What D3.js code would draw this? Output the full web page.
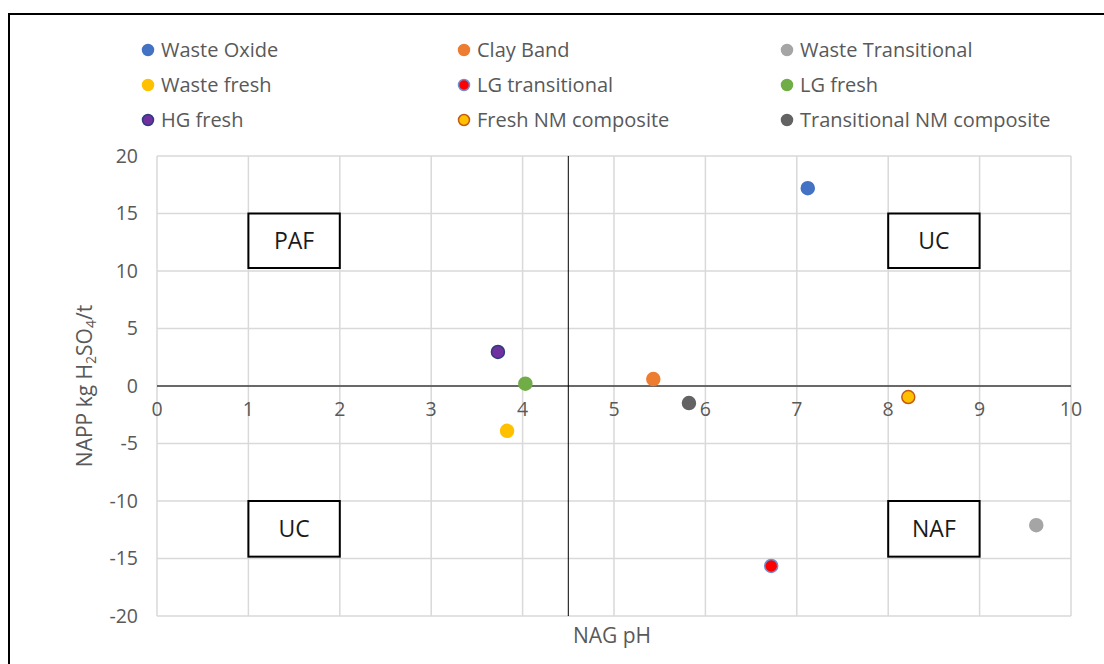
<!DOCTYPE html>
<html>
<head>
<meta charset="utf-8">
<script src="https://cdn.jsdelivr.net/npm/d3@7"></script>
<style>
  html, body { margin: 0; padding: 0; background: #fff; }
  svg text { font-family: "Open Sans", "Noto Sans", sans-serif; }
</style>
</head>
<body>
<svg id="chart" width="1104" height="664"></svg>
<script>
// ---- data ----
const seriesNames = ["Waste Oxide", "Clay Band", "Waste Transitional", "Waste fresh", "LG transitional", "LG fresh", "HG fresh", "Fresh NM composite", "Transitional NM composite"];
const nagPH = [7.12, 5.43, 9.62, 3.83, 6.72, 4.03, 3.73, 8.22, 5.82];
const napp = [17.2, 0.6, -12.1, -3.9, -15.65, 0.2, 2.96, -0.96, -1.48];
const fillColors = ["#4472c4", "#ed7d31", "#a5a5a5", "#ffc000", "#ff0000", "#70ad47", "#7030a0", "#ffc000", "#636363"];
const strokeColors = ["#4472c4", "#ed7d31", "#a5a5a5", "#ffc000", "#6f8fd0", "#70ad47", "#2f3a80", "#c55a11", "#636363"];
const xTicks = [0, 1, 2, 3, 4, 5, 6, 7, 8, 9, 10];
const yTicks = [20, 15, 10, 5, 0, -5, -10, -15, -20];
const zoneLabels = ["PAF", "UC", "UC", "NAF"];
const zoneX0 = [1, 8, 1, 8];
const zoneX1 = [2, 9, 2, 9];
const zoneY0 = [15, 15, -10, -10];
const zoneY1 = [10.26, 10.26, -14.84, -14.84];
const dividerX = 4.5;

// ---- layout ----
const svg = d3.select("#chart");
const W = 1104, H = 664;
const plot = { left: 157, right: 1071, top: 156, bottom: 616 };
const x = d3.scaleLinear().domain([0, 10]).range([plot.left, plot.right]);
const y = d3.scaleLinear().domain([-20, 20]).range([plot.bottom, plot.top]);

svg.append("rect").attr("width", W).attr("height", H).attr("fill", "#fff");
// outer frame
svg.append("rect").attr("x", 9).attr("y", 14).attr("width", W + 20).attr("height", H + 20)
  .attr("fill", "none").attr("stroke", "#000").attr("stroke-width", 2);

// gridlines
const grid = svg.append("g");
grid.selectAll("line.v").data(xTicks).join("line")
  .attr("x1", d => x(d)).attr("x2", d => x(d))
  .attr("y1", plot.top).attr("y2", plot.bottom)
  .attr("stroke", "#d9d9d9").attr("stroke-width", 1.5);
grid.selectAll("line.h").data(yTicks).join("line")
  .attr("x1", plot.left).attr("x2", plot.right)
  .attr("y1", d => y(d)).attr("y2", d => y(d))
  .attr("stroke", "#d9d9d9").attr("stroke-width", 1.5);

// zero line (x-axis)
svg.append("line").attr("x1", plot.left).attr("x2", plot.right)
  .attr("y1", y(0)).attr("y2", y(0)).attr("stroke", "#404040").attr("stroke-width", 1.5);
// divider line
svg.append("line").attr("x1", x(dividerX)).attr("x2", x(dividerX))
  .attr("y1", plot.top).attr("y2", plot.bottom).attr("stroke", "#000").attr("stroke-width", 1);

// y axis tick labels
svg.selectAll("text.yt").data(yTicks).join("text")
  .attr("x", plot.left - 19).attr("y", d => y(d)).attr("dy", "0.35em")
  .attr("text-anchor", "end").attr("font-size", 19.5).attr("fill", "#595959")
  .text(d => d);
// x axis tick labels (just below the zero line)
svg.selectAll("text.xt").data(xTicks).join("text")
  .attr("x", d => x(d)).attr("y", y(0) + 30)
  .attr("text-anchor", "middle").attr("font-size", 19.5).attr("fill", "#595959")
  .text(d => d);

// zone boxes
const zones = zoneLabels.map((l, i) => ({ l, x0: zoneX0[i], x1: zoneX1[i], y0: zoneY0[i], y1: zoneY1[i] }));
const zg = svg.append("g");
zg.selectAll("rect").data(zones).join("rect")
  .attr("x", d => x(d.x0)).attr("y", d => y(d.y0))
  .attr("width", d => x(d.x1) - x(d.x0)).attr("height", d => y(d.y1) - y(d.y0))
  .attr("fill", "#fff").attr("stroke", "#000").attr("stroke-width", 2);
zg.selectAll("text").data(zones).join("text")
  .attr("x", d => (x(d.x0) + x(d.x1)) / 2).attr("y", d => (y(d.y0) + y(d.y1)) / 2)
  .attr("dy", "0.36em").attr("text-anchor", "middle").attr("font-size", 23).attr("fill", "#1a1a1a")
  .text(d => d.l);

// points
const pts = seriesNames.map((n, i) => ({ n, x: nagPH[i], y: napp[i], f: fillColors[i], s: strokeColors[i] }));
svg.append("g").selectAll("circle").data(pts).join("circle")
  .attr("cx", d => x(d.x)).attr("cy", d => y(d.y)).attr("r", 6.5)
  .attr("fill", d => d.f).attr("stroke", d => d.s).attr("stroke-width", 1.5);

// legend
const legCols = [148, 464, 787];
const legRows = [50, 85, 120];
const lg = svg.append("g");
const legItems = pts.map((d, i) => ({ ...d, cx: legCols[i % 3], cy: legRows[Math.floor(i / 3)] }));
lg.selectAll("circle").data(legItems).join("circle")
  .attr("cx", d => d.cx).attr("cy", d => d.cy).attr("r", 5.5)
  .attr("fill", d => d.f).attr("stroke", d => d.s).attr("stroke-width", 1.5);
lg.selectAll("text").data(legItems).join("text")
  .attr("x", d => d.cx + 13).attr("y", d => d.cy).attr("dy", "0.35em")
  .attr("font-size", 20).attr("fill", "#595959")
  .text(d => d.n);

// axis titles
svg.append("text").attr("x", 612).attr("y", 643).attr("text-anchor", "middle")
  .attr("font-size", 21).attr("fill", "#595959").text("NAG pH");
const yt = svg.append("text").attr("transform", "translate(92," + (plot.top + plot.bottom) / 2 + ") rotate(-90)")
  .attr("text-anchor", "middle").attr("font-size", 21).attr("fill", "#595959");
yt.append("tspan").text("NAPP kg H");
yt.append("tspan").attr("font-size", 14).attr("dy", 4).text("2");
yt.append("tspan").attr("dy", -4).text("SO");
yt.append("tspan").attr("font-size", 14).attr("dy", 4).text("4");
yt.append("tspan").attr("dy", -4).text("/t");
</script>
</body>
</html>
